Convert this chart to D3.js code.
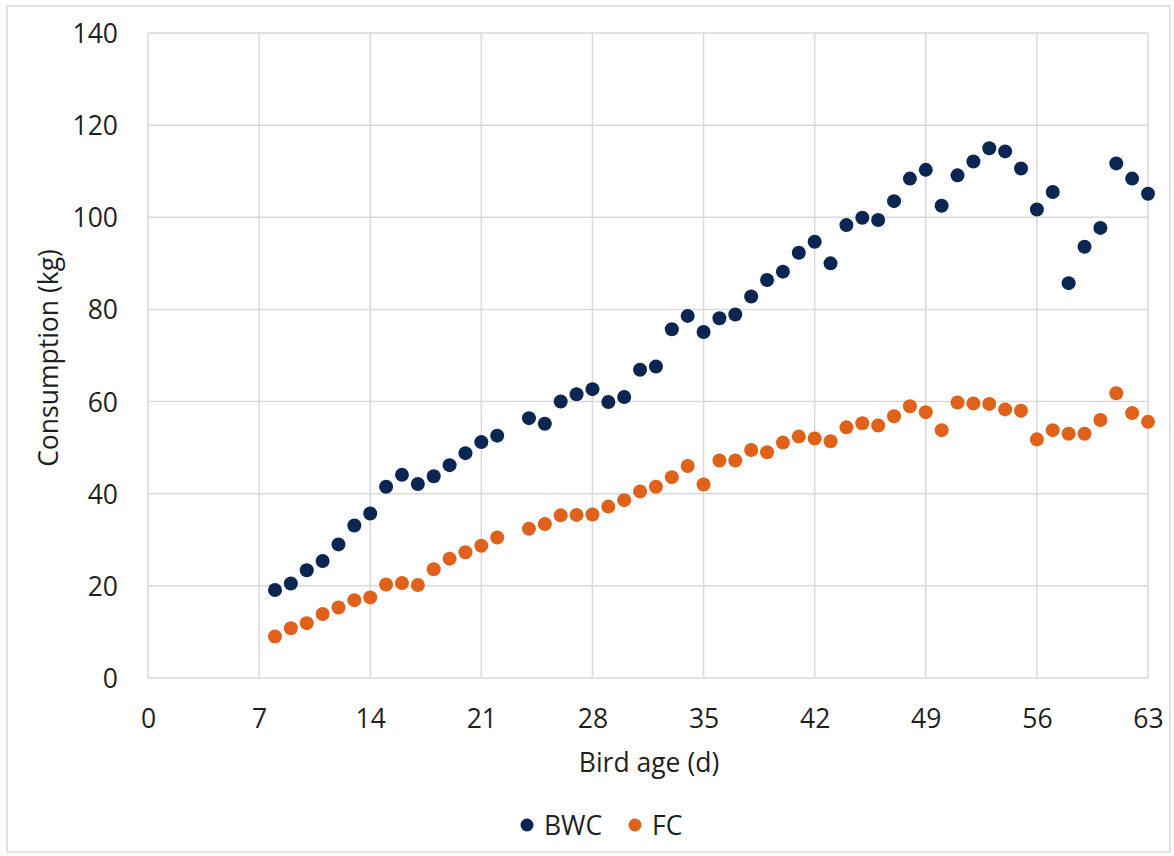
<!DOCTYPE html>
<html><head><meta charset="utf-8">
<script src="https://cdn.jsdelivr.net/npm/d3@7"></script>
<style>body{margin:0;background:#fff;} text{font-family:"Open Sans", sans-serif;}</style>
</head><body>
<svg id="chart" width="1174" height="856"></svg>
<script>
const days = [8,9,10,11,12,13,14,15,16,17,18,19,20,21,22,24,25,26,27,28,29,30,31,32,33,34,35,36,37,38,39,40,41,42,43,44,45,46,47,48,49,50,51,52,53,54,55,56,57,58,59,60,61,62,63];
const bwc = [19.1,20.5,23.4,25.4,29.0,33.1,35.7,41.5,44.1,42.1,43.8,46.2,48.8,51.2,52.6,56.4,55.2,60.0,61.6,62.7,59.9,61.0,66.9,67.6,75.7,78.6,75.1,78.1,78.9,82.8,86.4,88.2,92.3,94.7,90.0,98.3,99.9,99.4,103.5,108.4,110.3,102.5,109.1,112.1,115.0,114.3,110.6,101.7,105.5,85.7,93.6,97.7,111.7,108.4,105.1];
const fc = [9.0,10.8,11.9,13.9,15.3,16.9,17.5,20.3,20.6,20.2,23.6,25.9,27.3,28.7,30.5,32.4,33.4,35.3,35.4,35.5,37.2,38.6,40.5,41.5,43.6,46.0,42.0,47.2,47.2,49.5,49.0,51.1,52.4,52.0,51.4,54.4,55.3,54.8,56.8,59.0,57.7,53.8,59.8,59.6,59.5,58.3,58.0,51.8,53.8,53.0,53.0,56.0,61.8,57.5,55.6];
const xTicks = [0,7,14,21,28,35,42,49,56,63];
const yTicks = [0,20,40,60,80,100,120,140];
const seriesNames = ["BWC","FC"];
const seriesColors = ["#0c2653","#e0611a"];

const FS = 26.5, TXT = "#1f1f1f";
const svg = d3.select("#chart");
svg.append("rect").attr("x",7).attr("y",6).attr("width",1163).attr("height",846)
  .attr("fill","#fff").attr("stroke","#d9d9d9").attr("stroke-width",1.5);

const L=148, R=1148, T=33, B=678;
const x = d3.scaleLinear().domain([0,63]).range([L,R]);
const y = d3.scaleLinear().domain([0,140]).range([B,T]);

const g = svg.append("g");
g.selectAll(".vg").data(xTicks).join("line")
  .attr("x1",d=>x(d)).attr("x2",d=>x(d)).attr("y1",T).attr("y2",B)
  .attr("stroke","#d9d9d9").attr("stroke-width",1.5);
g.selectAll(".hg").data(yTicks).join("line")
  .attr("x1",L).attr("x2",R).attr("y1",d=>y(d)).attr("y2",d=>y(d))
  .attr("stroke","#d9d9d9").attr("stroke-width",1.5);

const xAxis = d3.axisBottom(x).tickValues(xTicks).tickSize(0).tickPadding(0);
const xa = svg.append("g").attr("transform",`translate(0,${B})`).call(xAxis);
xa.select(".domain").remove();
xa.selectAll("text").attr("font-size",FS).attr("fill",TXT).attr("dy",null)
  .attr("y",49.5).attr("font-family","Open Sans, sans-serif");

const yAxis = d3.axisLeft(y).tickValues(yTicks).tickSize(0).tickPadding(0);
const ya = svg.append("g").attr("transform",`translate(${L},0)`).call(yAxis);
ya.select(".domain").remove();
ya.selectAll("text").attr("font-size",FS).attr("fill",TXT).attr("x",-30)
  .attr("dy","0.36em").attr("font-family","Open Sans, sans-serif");

svg.append("text").attr("x",(L+R)/2+1).attr("y",772).attr("text-anchor","middle")
  .attr("font-size",FS).attr("fill",TXT).text("Bird age (d)");
svg.append("text").attr("transform",`translate(58,358) rotate(-90)`)
  .attr("text-anchor","middle").attr("font-size",FS).attr("fill",TXT).text("Consumption (kg)");

const series = [bwc, fc];
series.forEach((vals,i)=>{
  svg.append("g").selectAll("circle").data(days.map((d,j)=>[d,vals[j]])).join("circle")
    .attr("cx",d=>x(d[0])).attr("cy",d=>y(d[1])).attr("r",7)
    .attr("fill",seriesColors[i]);
});

// legend
const leg = [{x:527},{x:635}];
seriesNames.forEach((n,i)=>{
  svg.append("circle").attr("cx",leg[i].x).attr("cy",825).attr("r",6.5).attr("fill",seriesColors[i]);
  svg.append("text").attr("x",leg[i].x+17).attr("y",835).attr("font-size",FS).attr("fill",TXT).text(n);
});
</script>
</body></html>
